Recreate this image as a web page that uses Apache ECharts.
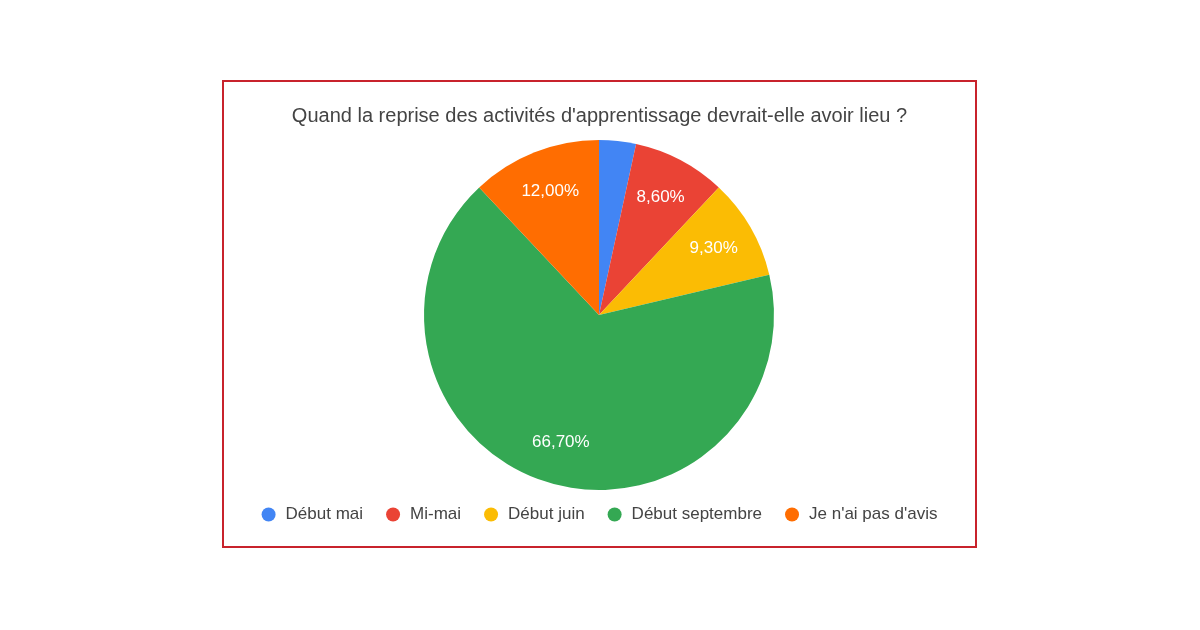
<!DOCTYPE html>
<html>
<head>
<meta charset="utf-8">
<script src="https://cdn.jsdelivr.net/npm/echarts@6/dist/echarts.min.js"></script>
<style>
  html, body { margin: 0; padding: 0; background: #fff; }
  #frame {
    position: absolute; left: 222px; top: 80px;
    width: 751px; height: 464px;
    border: 2px solid #c8232c;
  }
  #chart { width: 751px; height: 464px; }
</style>
</head>
<body>
<div id="frame"><div id="chart"></div></div>
<script>
const title = "Quand la reprise des activités d'apprentissage devrait-elle avoir lieu ?";
const categories = ["Début mai", "Mi-mai", "Début juin", "Début septembre", "Je n'ai pas d'avis"];
const percents = [3.4, 8.6, 9.3, 66.7, 12.0];
const colors = ["#4285f4", "#ea4335", "#fbbc04", "#34a853", "#ff6d01"];

const pieData = categories.map((name, i) => ({ name: name, value: percents[i] }));

function fmt(p) {
  // hide labels for small slices, like the sheet does
  if (p.value < 5) return "";
  return p.value.toFixed(2).replace(".", ",") + "%";
}

const chart = echarts.init(document.getElementById("chart"));
chart.setOption({
  animation: false,
  color: colors,
  textStyle: { fontFamily: "Arial, 'Liberation Sans', sans-serif" },
  title: {
    text: title,
    left: "center",
    top: 19,
    textStyle: { fontSize: 20, fontWeight: "normal", color: "#444" }
  },
  legend: {
    data: categories,
    bottom: 18,
    left: "center",
    icon: "circle",
    itemWidth: 14,
    itemHeight: 14,
    itemGap: 23,
    textStyle: { fontSize: 17, color: "#444", padding: [0, 0, 0, 5] }
  },
  series: [
    {
      name: "slices",
      type: "pie",
      center: [375, 233],
      radius: [0, 175],
      startAngle: 90,
      label: { show: false },
      labelLine: { show: false },
      data: pieData
    },
    {
      // transparent ring, only used to place the percentages further out
      name: "labels",
      type: "pie",
      center: [375, 233],
      radius: [84, 175],
      startAngle: 90,
      silent: true,
      itemStyle: { color: "rgba(0,0,0,0)" },
      label: {
        show: true,
        position: "inside",
        formatter: fmt,
        color: "#fff",
        fontSize: 17
      },
      labelLine: { show: false },
      emphasis: { disabled: true },
      data: pieData
    }
  ]
});
</script>
</body>
</html>
